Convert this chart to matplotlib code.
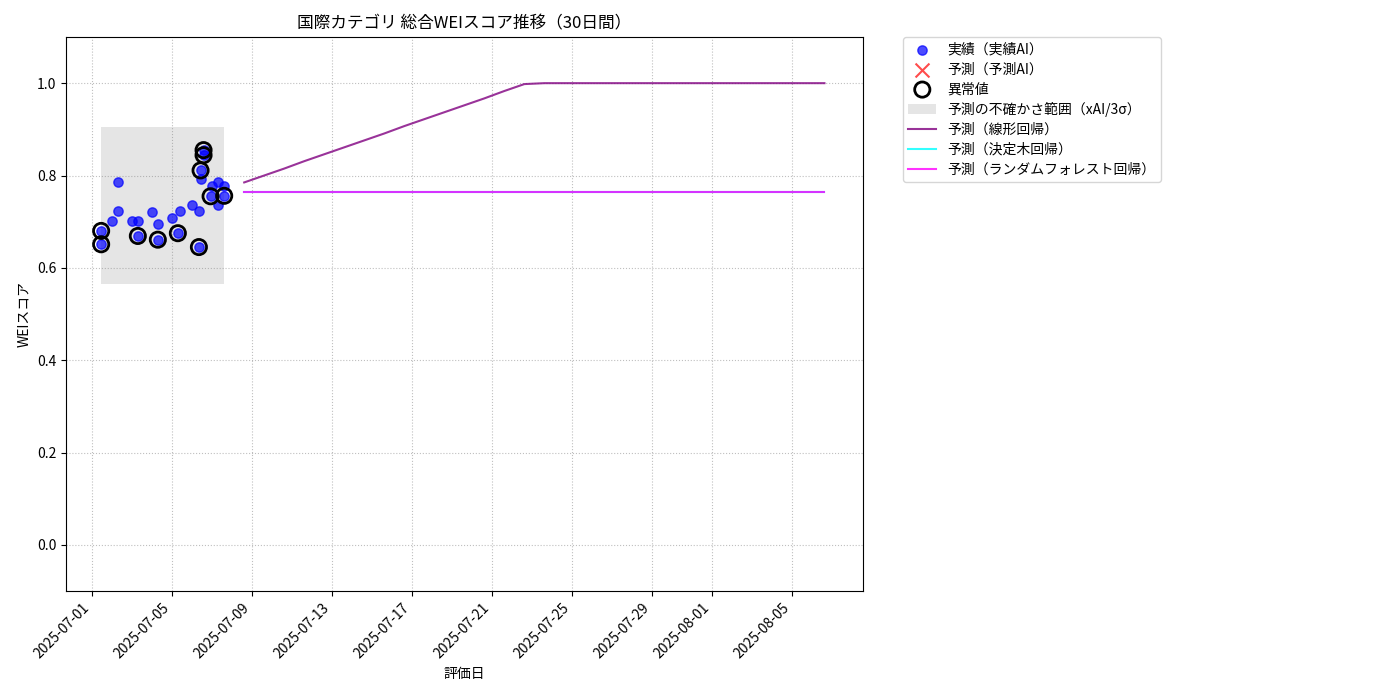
import matplotlib
matplotlib.use("Agg")
import matplotlib.pyplot as plt
import matplotlib.dates as mdates
import pandas as pd

plt.rcParams['font.family'] = ['Noto Sans CJK JP', 'DejaVu Sans']

# Actual data (実績)
actual_dates = [
    "2025-07-01 11:10", "2025-07-01 11:10", "2025-07-02 00:00", "2025-07-02 07:30",
    "2025-07-02 07:30", "2025-07-03 00:20", "2025-07-03 07:10", "2025-07-03 07:10",
    "2025-07-04 00:20", "2025-07-04 07:10", "2025-07-04 07:10", "2025-07-05 00:20",
    "2025-07-05 09:15", "2025-07-05 07:10", "2025-07-06 00:20", "2025-07-06 08:25",
    "2025-07-06 08:25", "2025-07-06 10:25", "2025-07-06 11:10", "2025-07-06 14:00",
    "2025-07-06 14:00", "2025-07-06 23:40", "2025-07-07 07:35", "2025-07-07 14:45",
    "2025-07-06 22:25", "2025-07-07 14:45", "2025-07-07 07:35",
]
actual_values = [
    0.651, 0.680, 0.701, 0.724, 0.786, 0.701, 0.701, 0.669,
    0.720, 0.694, 0.661, 0.708, 0.724, 0.675, 0.737, 0.724,
    0.645, 0.811, 0.793, 0.855, 0.844, 0.777, 0.787, 0.777,
    0.755, 0.756, 0.737,
]
anomaly_flags = [
    1, 1, 0, 0, 0, 0, 0, 1,
    0, 0, 1, 0, 0, 1, 0, 0,
    1, 1, 0, 1, 1, 0, 0, 0,
    1, 1, 0,
]

# Uncertainty band
band_low = 0.566
band_high = 0.905

# Forecasts (30 days)
pred_start = "2025-07-08 14:45"
linear_values = [
    0.785, 0.800, 0.815, 0.831, 0.846, 0.861, 0.876, 0.891, 0.907, 0.922,
    0.937, 0.952, 0.967, 0.983, 0.998, 1.000, 1.000, 1.000, 1.000, 1.000,
    1.000, 1.000, 1.000, 1.000, 1.000, 1.000, 1.000, 1.000, 1.000, 1.000,
]
tree_values = [0.765] * 30
forest_values = [0.765] * 30

title = "国際カテゴリ 総合WEIスコア推移（30日間）"
xlabel = "評価日"
ylabel = "WEIスコア"

ad = pd.to_datetime(actual_dates)
pdates = pd.date_range(pd.Timestamp(pred_start), periods=len(linear_values), freq="D")

fig = plt.figure(figsize=(14, 7), dpi=100)
ax = fig.add_axes([66/1400, 1-591/700, (863-66)/1400, (591-37)/700])

band = ax.fill_between([ad.min(), ad.max()], band_low, band_high,
                       color='gray', alpha=0.2, linewidth=0,
                       label="予測の不確かさ範囲（xAI/3σ）")
sc_act = ax.scatter(ad, actual_values, color='blue', alpha=0.7, s=45,
                    label="実績（実績AI）", zorder=3)
sc_pred = ax.scatter([], [], color='red', marker='x', alpha=0.7, s=100,
                     label="予測（予測AI）")
an_d = [d for d, f in zip(ad, anomaly_flags) if f]
an_v = [v for v, f in zip(actual_values, anomaly_flags) if f]
sc_an = ax.scatter(an_d, an_v, facecolors='none', edgecolors='black',
                   linewidths=2, s=120, label="異常値", zorder=4)
l1, = ax.plot(pdates, linear_values, color='purple', alpha=0.8, label="予測（線形回帰）")
l2, = ax.plot(pdates, tree_values, color='cyan', alpha=0.8, label="予測（決定木回帰）")
l3, = ax.plot(pdates, forest_values, color='magenta', alpha=0.8,
              label="予測（ランダムフォレスト回帰）")

ax.set_ylim(-0.1, 1.1)
ax.set_xlim(pd.Timestamp("2025-06-29 17:00"), pd.Timestamp("2025-08-08 13:00"))
ax.xaxis.set_major_locator(mdates.DayLocator(bymonthday=[1, 5, 9, 13, 17, 21, 25, 29]))
ax.xaxis.set_major_formatter(mdates.DateFormatter('%Y-%m-%d'))
plt.setp(ax.get_xticklabels(), rotation=45, ha='right')
ax.grid(True, linestyle=':', color='gray', alpha=0.5)
ax.set_title(title, fontsize=12)
ax.set_xlabel(xlabel)
ax.set_ylabel(ylabel)

ax.legend(handles=[sc_act, sc_pred, sc_an, band, l1, l2, l3],
          bbox_to_anchor=(1.05, 1), loc='upper left', borderaxespad=0.,
          labelspacing=0.42)

fig.savefig("out.png", dpi=100)
